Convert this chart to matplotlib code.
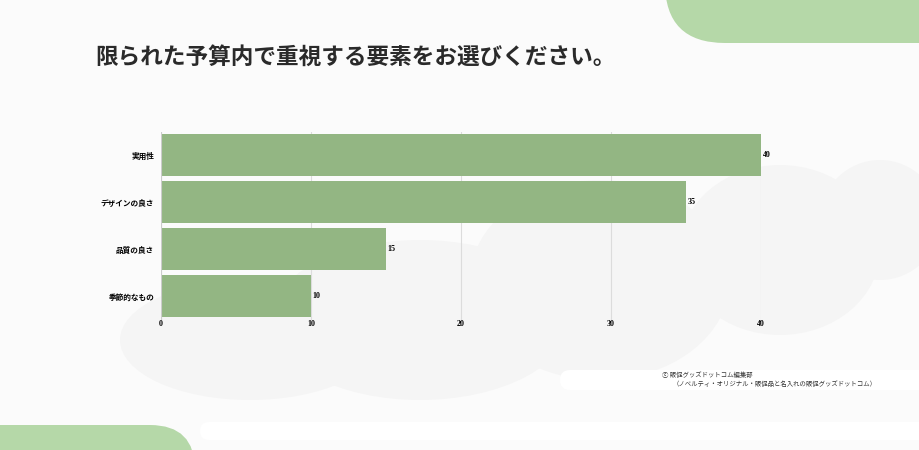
import matplotlib.pyplot as plt
from matplotlib.patches import FancyBboxPatch, Ellipse

# data
categories = ["実用性", "デザインの良さ", "品質の良さ", "季節的なもの"]
values = [40, 35, 15, 10]
xticks = [0, 10, 20, 30, 40]

title = "限られた予算内で重視する要素をお選びください。"
credit1 = "ⓒ 販促グッズドットコム編集部"
credit2 = "（ノベルティ・オリジナル・販促品と名入れの販促グッズドットコム）"

bar_color = "#93b683"
blob_color = "#b5d8a8"

plt.rcParams['font.family'] = ['Noto Sans CJK JP', 'DejaVu Sans']

fig = plt.figure(figsize=(9.2, 4.5), dpi=100)
fig.patch.set_facecolor("#fbfbfb")

# faint background shapes
bg = fig.add_axes([0, 0, 1, 1], zorder=-5)
bg.set_xlim(0, 920)
bg.set_ylim(0, 450)
bg.axis("off")
for (cx, cy, w, h) in [(600, 170, 260, 200), (780, 200, 200, 170), (880, 230, 120, 120),
                       (420, 130, 300, 160), (250, 110, 260, 120)]:
    bg.add_patch(Ellipse((cx, cy), w, h, color="#f5f5f5", lw=0))
bg.add_patch(FancyBboxPatch((560, 60), 400, 20, boxstyle="round,pad=0,rounding_size=10", color="#ffffff", lw=0))
bg.add_patch(FancyBboxPatch((200, 10), 750, 18, boxstyle="round,pad=0,rounding_size=9", color="#ffffff", lw=0))
# green blobs
bg.add_patch(FancyBboxPatch((665, 407), 400, 200, boxstyle="round,pad=0,rounding_size=60",
                            color=blob_color, lw=0))
bg.add_patch(FancyBboxPatch((-200, -200), 395, 225, boxstyle="round,pad=0,rounding_size=45",
                            color=blob_color, lw=0))

ax = fig.add_axes([161 / 920, 130.5 / 450, 600 / 920, 188 / 450])
ax.set_facecolor("none")
y = list(range(len(categories)))
bars = ax.barh(y, values, height=0.9, color=bar_color, zorder=3)
ax.set_ylim(len(categories) - 0.5, -0.5)
ax.set_xlim(0, 40)
ax.set_xticks(xticks)
ax.set_xticklabels([str(t) for t in xticks], family="Liberation Serif", fontweight="bold", fontsize=5.8)
ax.set_yticks(y)
ax.set_yticklabels(categories, fontsize=5.5, fontweight="bold")
ax.tick_params(axis="y", length=0, pad=5)
ax.tick_params(axis="x", length=0, pad=0)
ax.grid(axis="x", color="#dcdcdc", lw=0.8, zorder=0)
for s in ax.spines.values():
    s.set_visible(False)
ax.axvline(0, color="#cccccc", lw=0.8, zorder=4)

for yi, v in zip(y, values):
    ax.text(v + 0.12, yi, str(v), va="center", ha="left", fontsize=5.8,
            family="Liberation Serif", fontweight="bold", clip_on=False)

fig.text(95 / 920, 1 - 57 / 450, title, fontsize=16.3, fontweight="bold", va="center", ha="left",
         color="#2a2a2a")
fig.text(662 / 920, 1 - 375 / 450, credit1, fontsize=4.6, va="center", ha="left", color="#333333")
fig.text(673 / 920, 1 - 384 / 450, credit2, fontsize=4.6, va="center", ha="left", color="#333333")

fig.savefig("out.png", dpi=100, facecolor=fig.get_facecolor())
